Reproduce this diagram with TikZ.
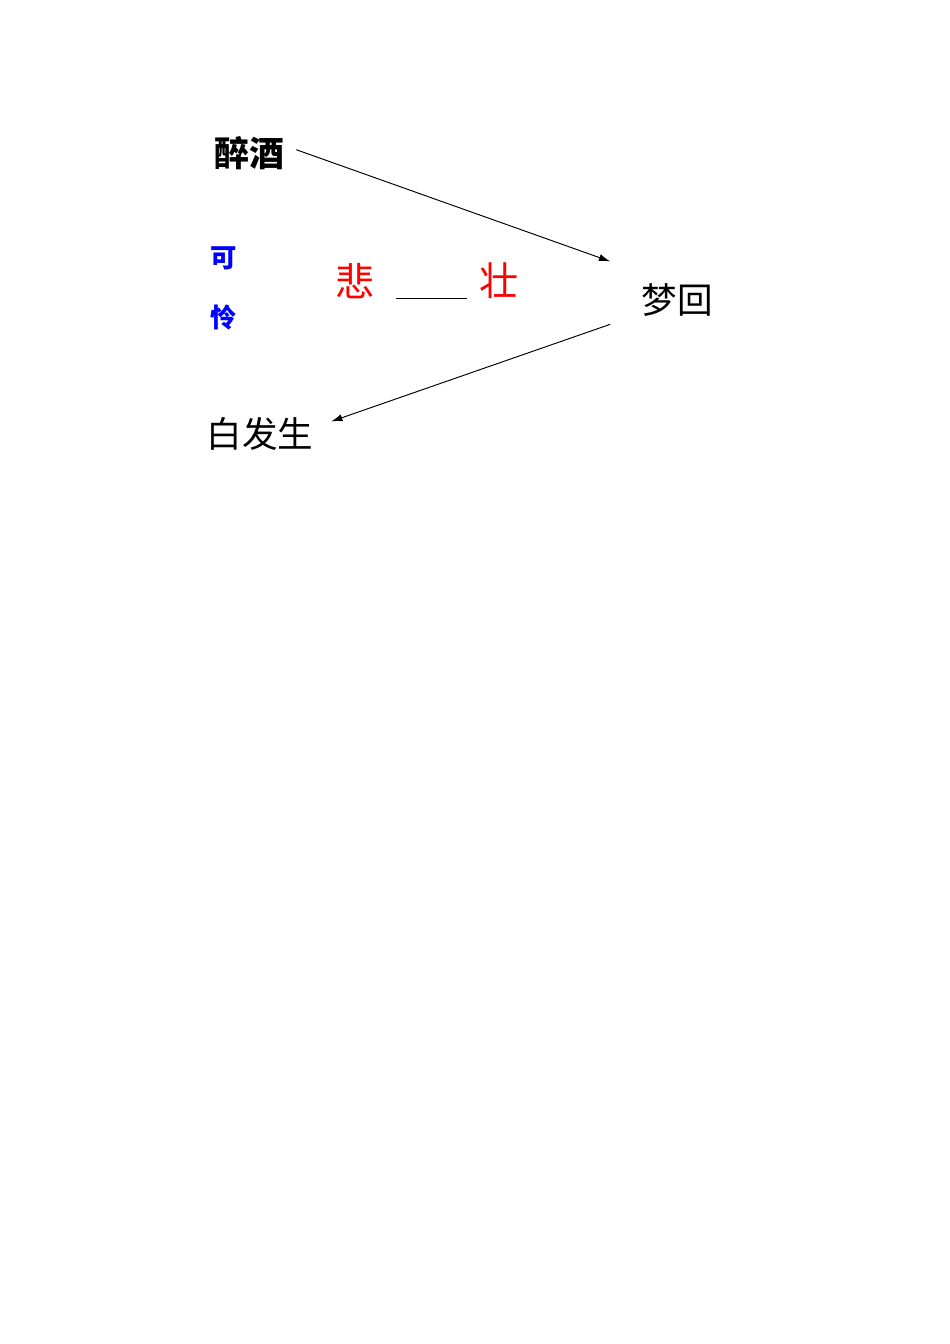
\documentclass[tikz,border=0pt]{standalone}
\usepackage{fontspec}
\newfontfamily\cjk{Noto Sans CJK SC}
\usetikzlibrary{arrows.meta}
\begin{document}
\begin{tikzpicture}[x=0.6266pt, y=-0.6266pt]
 \tikzstyle{bnode}=[inner sep=0pt, font=\cjk\bfseries\fontsize{21.9}{22}\selectfont]
 \tikzstyle{tnode}=[inner sep=0pt, font=\cjk\fontsize{22.3}{23}\selectfont]
 \tikzstyle{rnode}=[inner sep=0pt, text=red, font=\cjk\fontsize{24.5}{25}\selectfont]
 \tikzstyle{knode}=[inner sep=0pt, text=blue, font=\cjk\bfseries\fontsize{16.5}{17}\selectfont]
 \tikzstyle{conn}=[line width=0.6pt, -{Latex[length=7pt, width=4.5pt]}]
\useasboundingbox (0,0) rectangle (950,1344);
\draw (249,153) node[bnode, inner xsep=7.5pt] (zuijiu) {醉酒};
\draw (677,300) node[tnode, inner xsep=19.4pt, minimum height=50pt] (menghui) {梦回};
\draw (260,434) node[tnode, inner xsep=11pt] (baifasheng) {白发生};
\draw (224,258) node[knode] (ke) {可};
\draw (224,317) node[knode] (lian) {怜};
\draw (355,281) node[rnode] (bei) {悲};
\draw (499,281) node[rnode] (zhuang) {壮};
% blank between the two red words
\coordinate (gapl) at (396,298);
\coordinate (gapr) at (467,298);
\draw[line width=0.6pt] (gapl) -- (gapr);
\draw[conn] (zuijiu.4) -- (menghui.150);
\draw[conn] (menghui.200) -- (baifasheng.10);
\end{tikzpicture}
\end{document}
